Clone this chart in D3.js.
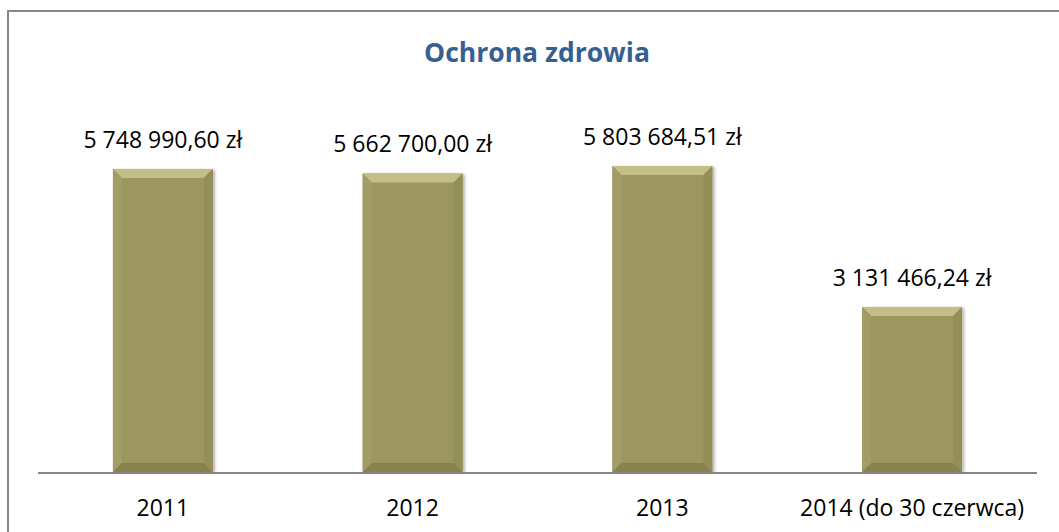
<!DOCTYPE html>
<html><head><meta charset="utf-8">
<script src="https://cdn.jsdelivr.net/npm/d3@7"></script>
<style>body{margin:0;background:#fff;} svg{display:block;}</style>
</head><body>
<svg id="c" width="1059" height="532"></svg>
<script>
const title = "Ochrona zdrowia";
const categories = ["2011", "2012", "2013", "2014 (do 30 czerwca)"];
const values = [5748990.60, 5662700.00, 5803684.51, 3131466.24];
const valueLabels = ["5 748 990,60 zł", "5 662 700,00 zł", "5 803 684,51 zł", "3 131 466,24 zł"];

const svg = d3.select("#c");
const font = "'Open Sans', 'Noto Sans', sans-serif";

// outer frame
svg.append("rect").attr("x", 8).attr("y", 11).attr("width", 1070).attr("height", 540)
  .attr("fill", "#fff").attr("stroke", "#868686").attr("stroke-width", 2);

const x = d3.scaleBand().domain(categories).range([38, 1037]).paddingInner(0.6).paddingOuter(0.3);
const y = d3.scaleLinear().domain([0, 7000000]).range([472, 103]);

const defs = svg.append("defs");
const f = defs.append("filter").attr("id", "sh").attr("x", "-10%").attr("y", "-10%").attr("width", "130%").attr("height", "130%");
f.append("feGaussianBlur").attr("in", "SourceAlpha").attr("stdDeviation", 1.5);
f.append("feOffset").attr("dx", 2).attr("dy", 1).attr("result", "b");
f.append("feComponentTransfer").append("feFuncA").attr("type", "linear").attr("slope", 0.3);
const m = f.append("feMerge"); m.append("feMergeNode"); m.append("feMergeNode").attr("in", "SourceGraphic");

const bars = svg.append("g").selectAll("g").data(values).join("g").attr("filter", "url(#sh)");
const bv = 9;
bars.each(function(d, i) {
  const g = d3.select(this);
  const x0 = x(categories[i]), x1 = x0 + x.bandwidth();
  const y0 = y(d), y1 = y(0);
  g.append("rect").attr("x", x0).attr("y", y0).attr("width", x1 - x0).attr("height", y1 - y0).attr("fill", "#9c9660");
  g.append("path").attr("d", `M${x0},${y0}L${x1},${y0}L${x1-bv},${y0+bv}L${x0+bv},${y0+bv}Z`).attr("fill", "#c3bd88");
  g.append("path").attr("d", `M${x0},${y0}L${x0+bv},${y0+bv}L${x0+bv},${y1-bv}L${x0},${y1}Z`).attr("fill", "#a29c66");
  g.append("path").attr("d", `M${x1},${y0}L${x1-bv},${y0+bv}L${x1-bv},${y1-bv}L${x1},${y1}Z`).attr("fill", "#948e59");
  g.append("path").attr("d", `M${x0},${y1}L${x1},${y1}L${x1-bv},${y1-bv}L${x0+bv},${y1-bv}Z`).attr("fill", "#888250");
});

// axis line
svg.append("line").attr("x1", 38).attr("x2", 1037).attr("y1", 473).attr("y2", 473)
  .attr("stroke", "#868686").attr("stroke-width", 2);

// value labels
svg.append("g").selectAll("text").data(values).join("text")
  .attr("x", (d, i) => x(categories[i]) + x.bandwidth() / 2)
  .attr("y", d => y(d) - 21)
  .attr("text-anchor", "middle")
  .attr("font-family", font).attr("font-size", 23).attr("fill", "#000")
  .text((d, i) => valueLabels[i]);

// category labels
svg.append("g").selectAll("text").data(categories).join("text")
  .attr("x", d => x(d) + x.bandwidth() / 2)
  .attr("y", 516)
  .attr("text-anchor", "middle")
  .attr("font-family", font).attr("font-size", 23).attr("fill", "#000")
  .text(d => d);

svg.append("text").attr("x", 537).attr("y", 62).attr("text-anchor", "middle")
  .attr("font-family", font).attr("font-weight", "bold").attr("font-size", 26.5).attr("fill", "#376092")
  .text(title);
</script>
</body></html>
